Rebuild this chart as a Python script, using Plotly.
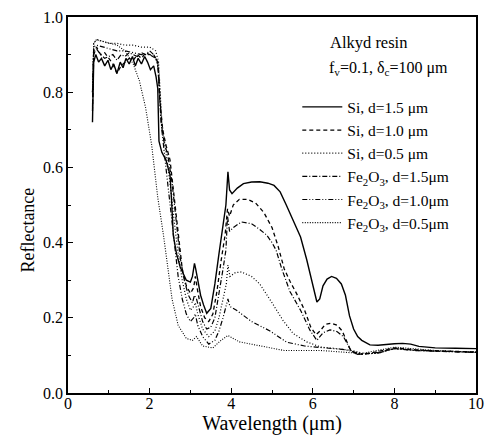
import plotly.graph_objects as go

# ---- data ----
si15_x = [0.60,0.63,0.68,0.75,0.82,0.9,0.98,1.05,1.12,1.2,1.28,1.35,1.42,1.5,1.58,1.65,1.72,1.8,1.88,1.95,2.02,2.1,2.16,2.2,2.23,2.3,2.4,2.5,2.54,2.58,2.66,2.75,2.9,3.0,3.05,3.1,3.13,3.18,3.25,3.32,3.4,3.5,3.6,3.7,3.8,3.87,3.92,3.96,4.02,4.15,4.3,4.5,4.7,4.9,5.05,5.2,5.35,5.5,5.7,5.85,5.95,6.05,6.1,6.17,6.25,6.35,6.46,6.58,6.7,6.8,6.9,7.0,7.1,7.2,7.4,7.6,7.8,8.0,8.2,8.4,8.6,8.8,9.0,9.5,10.0]
si15_y = [0.72,0.88,0.90,0.88,0.89,0.87,0.885,0.86,0.875,0.85,0.88,0.865,0.89,0.875,0.895,0.87,0.89,0.875,0.895,0.88,0.86,0.87,0.84,0.81,0.67,0.64,0.62,0.58,0.51,0.42,0.37,0.335,0.30,0.295,0.31,0.345,0.33,0.30,0.26,0.235,0.212,0.225,0.29,0.37,0.45,0.50,0.588,0.54,0.53,0.545,0.557,0.561,0.562,0.558,0.552,0.535,0.50,0.465,0.415,0.355,0.31,0.26,0.242,0.25,0.285,0.303,0.31,0.305,0.29,0.26,0.205,0.17,0.15,0.14,0.128,0.127,0.13,0.131,0.132,0.13,0.124,0.121,0.12,0.119,0.118]

si10_x = [0.6,0.63,0.7,0.8,0.9,1.0,1.1,1.2,1.3,1.4,1.5,1.6,1.7,1.8,1.9,2.0,2.1,2.2,2.25,2.32,2.4,2.5,2.6,2.7,2.8,2.9,3.0,3.08,3.12,3.18,3.25,3.35,3.45,3.55,3.65,3.75,3.85,3.91,3.96,4.05,4.2,4.4,4.6,4.8,5.0,5.15,5.3,5.45,5.6,5.8,5.95,6.08,6.18,6.3,6.45,6.6,6.72,6.82,6.92,7.05,7.2,7.5,8.0,8.5,9.0,10.0]
si10_y = [0.75,0.9,0.92,0.9,0.905,0.89,0.875,0.85,0.87,0.88,0.89,0.885,0.9,0.89,0.905,0.9,0.9,0.88,0.78,0.70,0.66,0.62,0.52,0.42,0.33,0.285,0.265,0.28,0.31,0.27,0.23,0.2,0.19,0.21,0.27,0.35,0.42,0.49,0.47,0.50,0.515,0.515,0.505,0.48,0.44,0.39,0.33,0.295,0.265,0.22,0.175,0.155,0.165,0.182,0.186,0.18,0.165,0.14,0.115,0.105,0.103,0.108,0.12,0.115,0.112,0.109]

si05_x = [0.6,0.63,0.7,0.85,1.0,1.2,1.4,1.6,1.8,2.0,2.15,2.22,2.3,2.4,2.5,2.6,2.7,2.8,2.9,3.0,3.08,3.12,3.18,3.3,3.45,3.6,3.7,3.8,3.88,3.92,3.97,4.1,4.25,4.5,4.7,5.0,5.27,5.52,5.85,6.2,6.6,7.0,7.3,7.6,8.0,8.5,9.0,10.0]
si05_y = [0.8,0.93,0.94,0.935,0.93,0.93,0.925,0.925,0.92,0.92,0.91,0.88,0.72,0.64,0.56,0.46,0.37,0.3,0.25,0.22,0.23,0.24,0.21,0.17,0.15,0.165,0.2,0.25,0.29,0.34,0.31,0.32,0.322,0.31,0.29,0.24,0.193,0.158,0.136,0.122,0.118,0.112,0.104,0.106,0.118,0.113,0.111,0.108]

fe15_x = [0.6,0.63,0.7,0.8,0.9,1.0,1.1,1.2,1.3,1.4,1.5,1.6,1.7,1.8,1.9,2.0,2.1,2.2,2.28,2.35,2.45,2.55,2.65,2.75,2.85,2.95,3.05,3.1,3.15,3.22,3.3,3.4,3.5,3.6,3.7,3.8,3.87,3.91,3.96,4.05,4.25,4.5,4.7,4.87,5.0,5.1,5.24,5.44,5.7,5.93,6.1,6.25,6.42,6.6,6.75,6.85,6.95,7.1,7.3,7.6,8.0,8.5,9.0,10.0]
fe15_y = [0.76,0.91,0.915,0.9,0.89,0.895,0.9,0.885,0.9,0.895,0.905,0.9,0.895,0.905,0.9,0.91,0.9,0.88,0.72,0.67,0.63,0.56,0.45,0.36,0.3,0.26,0.24,0.26,0.25,0.22,0.19,0.17,0.175,0.2,0.26,0.33,0.38,0.47,0.43,0.44,0.455,0.45,0.435,0.42,0.40,0.38,0.33,0.27,0.22,0.167,0.14,0.16,0.168,0.163,0.15,0.128,0.11,0.103,0.104,0.108,0.118,0.114,0.112,0.108]

fe10_x = [0.6,0.63,0.7,0.85,1.0,1.2,1.4,1.6,1.8,2.0,2.15,2.22,2.3,2.4,2.5,2.6,2.7,2.8,2.9,3.0,3.08,3.12,3.18,3.3,3.45,3.6,3.7,3.8,3.88,3.92,3.97,4.13,4.5,4.95,5.36,5.8,6.3,6.8,7.2,7.6,8.0,8.5,9.0,10.0]
fe10_y = [0.8,0.92,0.925,0.92,0.915,0.91,0.91,0.905,0.9,0.9,0.89,0.86,0.7,0.6,0.5,0.4,0.31,0.25,0.21,0.19,0.2,0.21,0.18,0.15,0.13,0.14,0.165,0.2,0.23,0.25,0.23,0.22,0.19,0.165,0.135,0.125,0.12,0.115,0.104,0.106,0.118,0.113,0.111,0.108]

fe05_x = [0.6,0.63,0.7,0.85,1.0,1.2,1.4,1.6,1.75,1.9,2.05,2.2,2.34,2.45,2.55,2.7,2.9,3.05,3.15,3.3,3.55,3.75,3.92,4.2,4.5,5.3,6.2,7.2,8.0,9.0,10.0]
fe05_y = [0.8,0.93,0.94,0.935,0.93,0.925,0.91,0.875,0.83,0.76,0.66,0.52,0.42,0.33,0.25,0.18,0.145,0.14,0.15,0.125,0.12,0.14,0.153,0.136,0.13,0.113,0.113,0.105,0.122,0.113,0.109]

names = ["Si, d=1.5 \u03bcm", "Si, d=1.0 \u03bcm", "Si, d=0.5 \u03bcm",
         "Fe<sub>2</sub>O<sub>3</sub>, d=1.5\u03bcm", "Fe<sub>2</sub>O<sub>3</sub>, d=1.0\u03bcm",
         "Fe<sub>2</sub>O<sub>3</sub>, d=0.5\u03bcm"]
xs = [si15_x, si10_x, si05_x, fe15_x, fe10_x, fe05_x]
ys = [si15_y, si10_y, si05_y, fe15_y, fe10_y, fe05_y]
dashes = ["solid", "4px,3px", "1px,2px", "5px,2px,1px,2px", "5px,2px,1px,2px,1px,2px", "1px,1.5px"]
widths = [1.4, 1.3, 1.2, 1.2, 1.2, 1.1]

FONT = "Liberation Serif"

fig = go.Figure()
for x, y, n, d, w in zip(xs, ys, names, dashes, widths):
    fig.add_trace(go.Scatter(x=x, y=y, mode="lines", name=n,
                             line=dict(color="black", width=w, dash=d)))

fig.update_layout(
    width=486, height=442,
    margin=dict(l=68, r=10, t=17, b=49),
    paper_bgcolor="white", plot_bgcolor="white",
    font=dict(family=FONT, color="black", size=14),
    showlegend=True,
    legend=dict(x=0.562, y=0.805, xanchor="left", yanchor="top",
                bgcolor="rgba(0,0,0,0)", font=dict(family=FONT, size=15.5, color="black"),
                tracegroupgap=0, itemwidth=40),
    annotations=[
        dict(text="Alkyd resin", x=0.638, y=0.931, xref="paper", yref="paper",
             xanchor="left", yanchor="middle",
             showarrow=False, font=dict(family=FONT, size=16.5, color="black")),
        dict(text="f<sub>v</sub>=0.1, \u03b4<sub>c</sub>=100 \u03bcm", x=0.636, y=0.862,
             xref="paper", yref="paper", xanchor="left", yanchor="middle",
             showarrow=False, font=dict(family=FONT, size=16, color="black")),
        dict(text="Reflectance", x=-0.098, y=0.432, xref="paper", yref="paper",
             textangle=-90, xanchor="center", yanchor="middle",
             showarrow=False, font=dict(family=FONT, size=18, color="black")),
    ],
)

fig.update_xaxes(range=[0, 10], tickvals=[0, 2, 4, 6, 8, 10], ticks="inside", ticklen=5,
                 tickwidth=1.2, tickcolor="black", showline=True, linecolor="black", linewidth=1.5, mirror=True,
                 showgrid=False, zeroline=False, automargin=False, ticklabelstandoff=-5,
                 minor=dict(dtick=1, ticks="inside", ticklen=3, tickcolor="black", showgrid=False),
                 tickfont=dict(family=FONT, size=16, color="black"),
                 title=dict(text="Wavelength (\u03bcm)", font=dict(family=FONT, size=20, color="black"), standoff=4))
fig.update_yaxes(range=[0, 1.0], tickvals=[0, 0.2, 0.4, 0.6, 0.8, 1.0], ticktext=["0.0", "0.2", "0.4", "0.6", "0.8", "1.0"],
                 ticks="inside", ticklen=5, tickwidth=1.2, tickcolor="black",
                 showline=True, linecolor="black", linewidth=1.5, mirror=True,
                 showgrid=False, zeroline=False, automargin=False,
                 minor=dict(dtick=0.1, ticks="inside", ticklen=3, tickcolor="black", showgrid=False),
                 tickfont=dict(family=FONT, size=16, color="black"))

fig.write_html("out.html")
